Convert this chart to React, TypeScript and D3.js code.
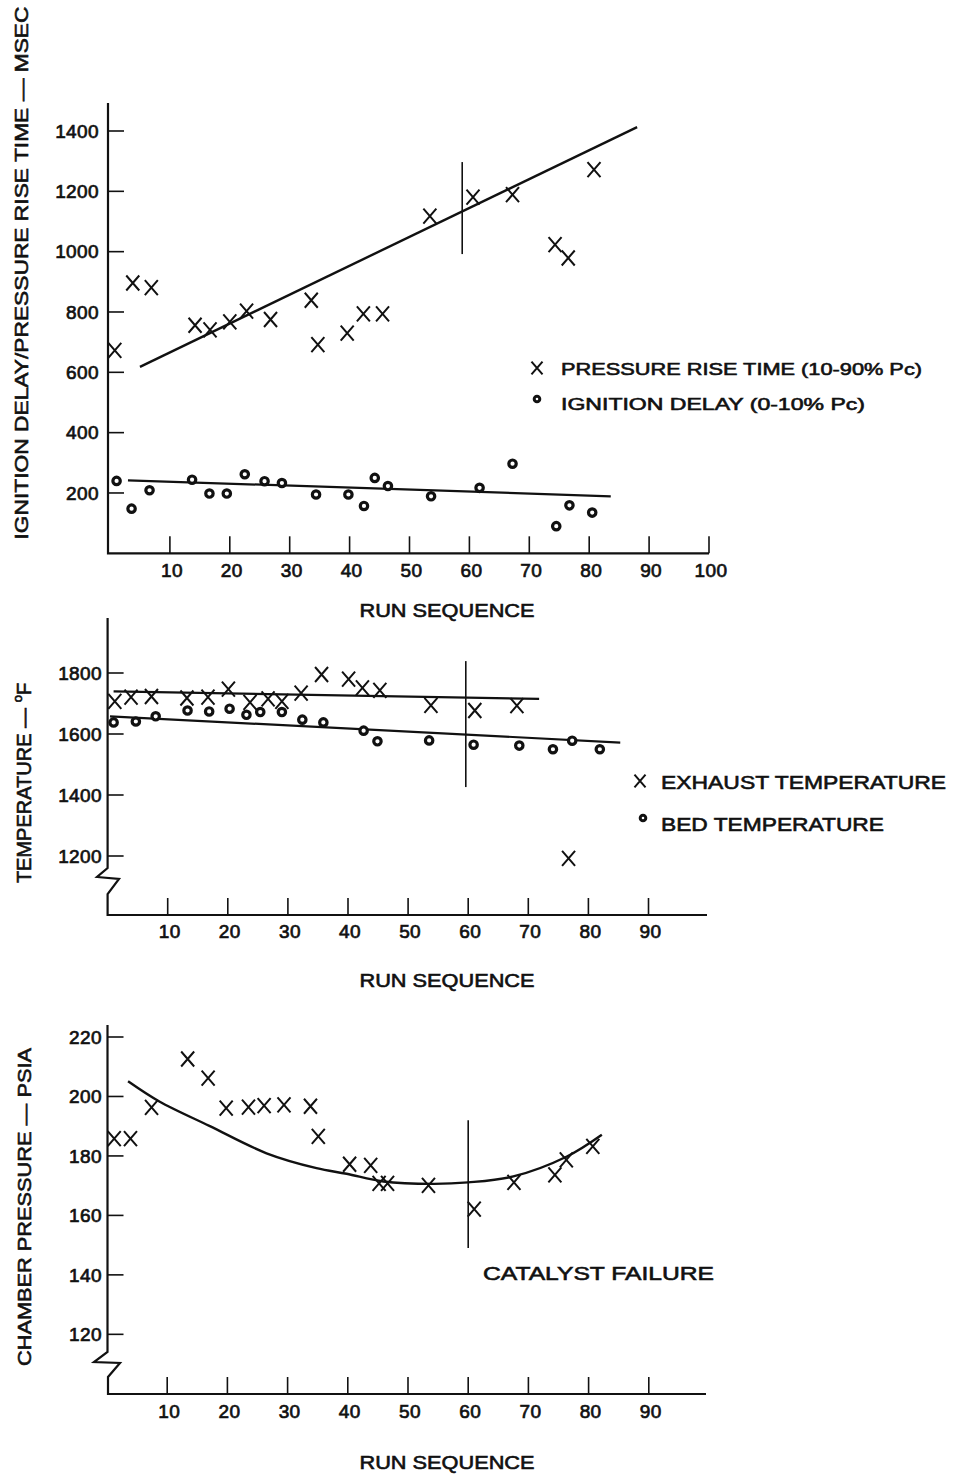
import React from "react";
import * as d3 from "d3";

// ---------- Panel 1: ignition delay / pressure rise time ----------
const riseRun = [0.8, 3.8, 6.9, 14.2, 16.7, 20.0, 22.8, 26.8, 33.6, 34.7, 39.6, 42.3, 45.5, 53.4, 60.6, 67.2, 74.3, 76.5, 80.8];
const riseTime = [673, 896, 881, 756, 741, 767, 803, 775, 839, 692, 730, 794, 794, 1118, 1181, 1189, 1023, 979, 1272];
const delayRun = [1.1, 3.6, 6.6, 13.7, 16.6, 19.5, 22.5, 25.8, 28.7, 34.4, 39.8, 42.4, 44.2, 46.4, 53.6, 61.7, 67.2, 74.5, 76.7, 80.5];
const delayTime = [240, 148, 209, 244, 198, 198, 262, 239, 233, 195, 195, 157, 250, 223, 189, 217, 297, 90, 159, 135];
const riseFitRun = [5, 88];
const riseFitVal = [618, 1413];
const delayFitRun = [3, 83.6];
const delayFitVal = [242, 189];
const p1YTicks = [200, 400, 600, 800, 1000, 1200, 1400];
const p1XTicks = [10, 20, 30, 40, 50, 60, 70, 80, 90, 100];
const p1Marker = { run: 58.8, from: 992, to: 1297 };

// ---------- Panel 2: temperatures ----------
const exhRun = [1.2, 3.9, 7.3, 13.2, 16.7, 20.1, 23.7, 26.7, 29.0, 32.2, 35.6, 40.1, 42.4, 45.3, 53.8, 61.1, 68.1, 76.7];
const exhTemp = [1707, 1721, 1723, 1718, 1721, 1747, 1704, 1715, 1707, 1734, 1795, 1780, 1751, 1743, 1694, 1677, 1693, 1192];
const bedRun = [1.0, 4.7, 8.0, 13.3, 16.9, 20.3, 23.1, 25.4, 29.0, 32.4, 35.9, 42.6, 44.9, 53.5, 60.9, 68.5, 74.1, 77.3, 81.9];
const bedTemp = [1638, 1641, 1658, 1677, 1674, 1683, 1663, 1672, 1672, 1647, 1638, 1611, 1576, 1579, 1565, 1562, 1550, 1578, 1550];
const exhFitRun = [1.0, 71.8];
const exhFitVal = [1740, 1715];
const bedFitRun = [0.4, 85.3];
const bedFitVal = [1658, 1572];
const p2YTicks = [1200, 1400, 1600, 1800];
const p2XTicks = [10, 20, 30, 40, 50, 60, 70, 80, 90];
const p2Marker = { run: 59.6, from: 1426, to: 1839 };

// ---------- Panel 3: chamber pressure ----------
const pcRun = [1.2, 3.9, 7.4, 13.4, 16.8, 19.8, 23.5, 26.1, 29.4, 33.8, 35.1, 40.3, 43.8, 45.2, 46.6, 53.4, 61.0, 67.6, 74.4, 76.3, 80.7];
const pcPsia = [185.8, 185.8, 196.3, 212.6, 206.2, 196.1, 196.4, 196.9, 197.2, 196.7, 186.6, 177.2, 176.8, 170.8, 170.8, 170.1, 162.1, 171.1, 173.6, 178.7, 183.2];
const pcCurveRun = [3.5, 8.7, 17.0, 26.5, 34.8, 39.8, 45.9, 54.2, 60.0, 67.5, 76.4, 82.2];
const pcCurvePsia = [205.1, 198.3, 190.1, 180.9, 175.9, 174.0, 171.4, 170.6, 171.1, 173.1, 179.8, 187.1];
const p3YTicks = [120, 140, 160, 180, 200, 220];
const p3XTicks = [10, 20, 30, 40, 50, 60, 70, 80, 90];
const p3Marker = { run: 60.0, from: 149, to: 192 };

const FONT = "'Liberation Sans', Arial, Helvetica, sans-serif";
const INK = "#111";

function XMark({ cx, cy, s = 1 }: { cx: number; cy: number; s?: number }) {
  const w = 6.5 * s, h = 7.5 * s;
  return (
    <path
      d={`M${cx - w},${cy - h}L${cx + w},${cy + h}M${cx + w},${cy - h}L${cx - w},${cy + h}`}
      stroke={INK}
      strokeWidth={2}
      fill="none"
    />
  );
}

function OMark({ cx, cy }: { cx: number; cy: number }) {
  return <circle cx={cx} cy={cy} r={3.7} fill="#fff" stroke={INK} strokeWidth={3.2} />;
}

const tickText = {
  fontFamily: FONT,
  fontSize: 19,
  fill: INK,
  stroke: INK,
  strokeWidth: 0.7,
  letterSpacing: 0.4,
} as const;

const labelText = {
  fontFamily: FONT,
  fontSize: 18,
  fill: INK,
  stroke: INK,
  strokeWidth: 0.6,
} as const;

function XTicks({ ticks, x, axisY, baseline }: { ticks: number[]; x: d3.ScaleLinear<number, number>; axisY: number; baseline: number }) {
  return (
    <g>
      {ticks.map((t) => (
        <g key={t}>
          <line x1={x(t)} x2={x(t)} y1={axisY} y2={axisY - 17} stroke={INK} strokeWidth={1.6} />
          <text x={x(t) + 2} y={baseline} textAnchor="middle" {...tickText}>
            {t}
          </text>
        </g>
      ))}
    </g>
  );
}

function YTicks({ ticks, y, axisX, labelRight }: { ticks: number[]; y: d3.ScaleLinear<number, number>; axisX: number; labelRight: number }) {
  return (
    <g>
      {ticks.map((t) => (
        <g key={t}>
          <line x1={axisX} x2={axisX + 16} y1={y(t)} y2={y(t)} stroke={INK} strokeWidth={1.6} />
          <text x={labelRight} y={y(t)} dy="0.36em" textAnchor="end" {...tickText}>
            {t}
          </text>
        </g>
      ))}
    </g>
  );
}

export default function App() {
  // Panel 1 scales
  const x1 = d3.scaleLinear().domain([0, 100]).range([110, 709]);
  const y1 = d3.scaleLinear().domain([0, 1400]).range([553.3, 131]);
  // Panel 2 scales
  const x2 = d3.scaleLinear().domain([0, 100]).range([107.6, 708.6]);
  const y2 = d3.scaleLinear().domain([1000, 1800]).range([917, 673]);
  // Panel 3 scales
  const x3 = d3.scaleLinear().domain([0, 100]).range([107, 709]);
  const y3 = d3.scaleLinear().domain([100, 220]).range([1393.8, 1037]);

  const line1 = d3.line<number>().x((_, i) => x1(riseFitRun[i])).y((d) => y1(d));
  const line1b = d3.line<number>().x((_, i) => x1(delayFitRun[i])).y((d) => y1(d));
  const line2 = d3.line<number>().x((_, i) => x2(exhFitRun[i])).y((d) => y2(d));
  const line2b = d3.line<number>().x((_, i) => x2(bedFitRun[i])).y((d) => y2(d));
  const curve3 = d3
    .line<number>()
    .x((_, i) => x3(pcCurveRun[i]))
    .y((d) => y3(d))
    .curve(d3.curveCatmullRom.alpha(0.5));

  return (
    <svg width={953} height={1476} viewBox="0 0 953 1476" style={{ display: "block", position: "absolute", left: 0, top: 0, background: "#fff" }}>
      <rect x={0} y={0} width={953} height={1476} fill="#fff" />

      {/* ================= Panel 1 ================= */}
      <text
        transform="translate(28,273) rotate(-90)"
        textAnchor="middle"
        {...labelText}
        fontSize={19}
        textLength={533}
        lengthAdjust="spacingAndGlyphs"
      >
        IGNITION DELAY/PRESSURE RISE TIME — MSEC
      </text>
      <path d={`M108,103V553.3H709`} stroke={INK} strokeWidth={2.2} fill="none" />
      <YTicks ticks={p1YTicks} y={y1} axisX={108} labelRight={99} />
      <XTicks ticks={p1XTicks} x={x1} axisY={553.3} baseline={577} />
      <text x={447} y={617} textAnchor="middle" {...labelText} textLength={175} lengthAdjust="spacingAndGlyphs">
        RUN SEQUENCE
      </text>
      <path d={line1(riseFitVal) || ""} stroke={INK} strokeWidth={2.4} fill="none" />
      <path d={line1b(delayFitVal) || ""} stroke={INK} strokeWidth={2.2} fill="none" />
      <line x1={x1(p1Marker.run)} x2={x1(p1Marker.run)} y1={y1(p1Marker.from)} y2={y1(p1Marker.to)} stroke={INK} strokeWidth={1.6} />
      {riseTime.map((v, i) => (
        <XMark key={"r" + i} cx={x1(riseRun[i])} cy={y1(v)} />
      ))}
      {delayTime.map((v, i) => (
        <OMark key={"d" + i} cx={x1(delayRun[i])} cy={y1(v)} />
      ))}
      <XMark cx={537} cy={368} s={0.85} />
      <text x={561} y={375} {...labelText} fontSize={17} textLength={361} lengthAdjust="spacingAndGlyphs">
        PRESSURE RISE TIME (10-90% Pc)
      </text>
      <circle cx={537} cy={399} r={2.8} fill="#fff" stroke={INK} strokeWidth={3} />
      <text x={561} y={410} {...labelText} fontSize={17} textLength={304} lengthAdjust="spacingAndGlyphs">
        IGNITION DELAY (0-10% Pc)
      </text>

      {/* ================= Panel 2 ================= */}
      <text transform="translate(31,783) rotate(-90)" textAnchor="middle" {...labelText} fontSize={20}>
        TEMPERATURE — <tspan fontSize={13} dy={-9}>o</tspan>
        <tspan dy={9}>F</tspan>
      </text>
      <path d={`M107.6,618V868L97,877L119,879L107.6,894V915H707`} stroke={INK} strokeWidth={2.2} fill="none" strokeLinejoin="miter" />
      <YTicks ticks={p2YTicks} y={y2} axisX={107.6} labelRight={102} />
      <XTicks ticks={p2XTicks} x={x2} axisY={915} baseline={938} />
      <text x={447} y={987} textAnchor="middle" {...labelText} textLength={175} lengthAdjust="spacingAndGlyphs">
        RUN SEQUENCE
      </text>
      <path d={line2(exhFitVal) || ""} stroke={INK} strokeWidth={2.2} fill="none" />
      <path d={line2b(bedFitVal) || ""} stroke={INK} strokeWidth={2.2} fill="none" />
      <line x1={x2(p2Marker.run)} x2={x2(p2Marker.run)} y1={y2(p2Marker.from)} y2={y2(p2Marker.to)} stroke={INK} strokeWidth={1.6} />
      {exhTemp.map((v, i) => (
        <XMark key={"e" + i} cx={x2(exhRun[i])} cy={y2(v)} />
      ))}
      {bedTemp.map((v, i) => (
        <OMark key={"b" + i} cx={x2(bedRun[i])} cy={y2(v)} />
      ))}
      <XMark cx={640} cy={781} s={0.85} />
      <text x={661} y={789} {...labelText} fontSize={19} textLength={285} lengthAdjust="spacingAndGlyphs">
        EXHAUST TEMPERATURE
      </text>
      <circle cx={643} cy={818} r={2.8} fill="#fff" stroke={INK} strokeWidth={3} />
      <text x={661} y={831} {...labelText} fontSize={19} textLength={223} lengthAdjust="spacingAndGlyphs">
        BED TEMPERATURE
      </text>

      {/* ================= Panel 3 ================= */}
      <text
        transform="translate(31,1207) rotate(-90)"
        textAnchor="middle"
        {...labelText}
        fontSize={19}
        textLength={318}
        lengthAdjust="spacingAndGlyphs"
      >
        CHAMBER PRESSURE — PSIA
      </text>
      <path d={`M107.5,1025V1352L94,1362L120,1363L108,1377V1394H706`} stroke={INK} strokeWidth={2.2} fill="none" />
      <YTicks ticks={p3YTicks} y={y3} axisX={107.5} labelRight={102} />
      <XTicks ticks={p3XTicks} x={x3} axisY={1394} baseline={1418} />
      <text x={447} y={1469} textAnchor="middle" {...labelText} textLength={175} lengthAdjust="spacingAndGlyphs">
        RUN SEQUENCE
      </text>
      <path d={curve3(pcCurvePsia) || ""} stroke={INK} strokeWidth={2.4} fill="none" />
      <line x1={x3(p3Marker.run)} x2={x3(p3Marker.run)} y1={y3(p3Marker.from)} y2={y3(p3Marker.to)} stroke={INK} strokeWidth={1.6} />
      {pcPsia.map((v, i) => (
        <XMark key={"p" + i} cx={x3(pcRun[i])} cy={y3(v)} />
      ))}
      <text x={483} y={1280} {...labelText} fontSize={19} textLength={231} lengthAdjust="spacingAndGlyphs">
        CATALYST FAILURE
      </text>
    </svg>
  );
}
